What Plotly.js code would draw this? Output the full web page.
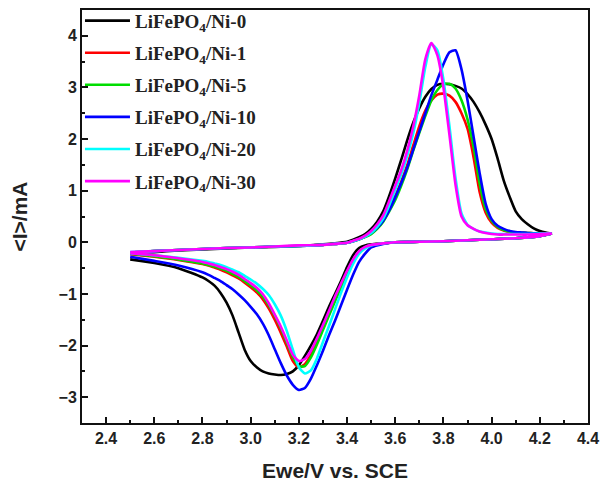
<!DOCTYPE html>
<html>
<head>
<meta charset="utf-8">
<script src="https://cdn.plot.ly/plotly-3.0.1.min.js"></script>
<style>html,body{margin:0;padding:0;background:#fff}#chart{width:616px;height:486px}</style>
</head>
<body>
<div id="chart"></div>
<script>
// Potential grids (V vs. SCE)
const vAnodic = [2.5,2.6,2.7,2.8,2.9,3.0,3.1,3.2,3.3,3.35,3.4,3.425,
  3.45,3.475,3.5,3.525,3.55,3.575,3.6,3.625,3.65,3.675,3.7,3.725,3.75,3.775,3.8,3.825,3.85,3.875,3.9,3.925,3.95,3.975,4.0,4.025,4.05,4.075,
  4.1,4.125,4.15,4.175,4.2,4.225,4.25];
const vCathodic = [4.25,4.2,4.1,4.0,3.9,3.8,3.7,3.6,3.55,3.5,
  3.475,3.45,3.425,3.4,3.375,3.35,3.325,3.3,3.275,3.25,3.225,3.2,3.175,3.15,3.125,3.1,3.075,3.05,3.025,
  3.0,2.975,2.95,2.925,2.9,2.875,2.85,2.825,2.8,
  2.7,2.6,2.5];

const seriesNames = ["LiFePO<sub>4</sub>/Ni-0","LiFePO<sub>4</sub>/Ni-1","LiFePO<sub>4</sub>/Ni-5",
  "LiFePO<sub>4</sub>/Ni-10","LiFePO<sub>4</sub>/Ni-20","LiFePO<sub>4</sub>/Ni-30"];

// Currents (mA), anodic sweep
const iAnNi0 = [-0.22,-0.19,-0.16,-0.14,-0.12,-0.1,-0.09,-0.07,-0.04,-0.02,0.01,0.05,
  0.1,0.16,0.26,0.4,0.6,0.9,1.24,1.6,1.98,2.32,2.6,2.82,2.97,3.05,3.07,3.06,3.03,2.98,2.87,2.72,2.52,2.28,2.0,1.62,1.2,0.88,
  0.6,0.45,0.35,0.27,0.22,0.19,0.17];
const iAnNi1 = [-0.2,-0.17,-0.15,-0.13,-0.11,-0.1,-0.08,-0.07,-0.05,-0.03,-0.01,0.02,
  0.06,0.11,0.19,0.3,0.45,0.66,0.9,1.18,1.5,1.88,2.25,2.55,2.75,2.86,2.88,2.84,2.72,2.5,2.2,1.65,0.98,0.58,0.38,0.28,0.23,0.2,
  0.19,0.185,0.18,0.175,0.17,0.17,0.17];
const iAnNi5 = [-0.2,-0.17,-0.15,-0.13,-0.11,-0.1,-0.08,-0.07,-0.05,-0.03,-0.01,0.02,
  0.06,0.1,0.16,0.26,0.4,0.6,0.82,1.1,1.42,1.78,2.12,2.45,2.75,2.95,3.06,3.07,2.98,2.75,2.38,1.85,1.15,0.65,0.42,0.3,0.24,0.21,
  0.19,0.185,0.18,0.175,0.17,0.17,0.17];
const iAnNi10 = [-0.2,-0.17,-0.15,-0.13,-0.11,-0.1,-0.08,-0.07,-0.05,-0.03,-0.01,0.02,
  0.06,0.11,0.18,0.28,0.42,0.62,0.87,1.15,1.45,1.8,2.15,2.5,2.85,3.15,3.45,3.68,3.72,3.35,2.75,2.05,1.35,0.75,0.45,0.32,0.26,0.22,
  0.2,0.19,0.18,0.175,0.17,0.17,0.17];
const iAnNi20 = [-0.19,-0.17,-0.15,-0.13,-0.11,-0.1,-0.08,-0.07,-0.05,-0.03,-0.01,0.02,
  0.06,0.11,0.18,0.3,0.46,0.72,1.02,1.32,1.68,2.12,2.7,3.4,3.84,3.72,3.15,2.25,1.25,0.56,0.34,0.26,0.21,0.19,0.17,0.16,0.16,0.16,
  0.16,0.16,0.16,0.165,0.17,0.17,0.17];
const iAnNi30 = [-0.19,-0.17,-0.15,-0.13,-0.11,-0.1,-0.08,-0.06,-0.05,-0.03,-0.01,0.03,
  0.07,0.13,0.22,0.35,0.52,0.8,1.1,1.4,1.78,2.25,2.85,3.55,3.86,3.62,3.0,2.08,1.12,0.5,0.33,0.26,0.21,0.18,0.16,0.15,0.15,0.15,
  0.15,0.15,0.15,0.155,0.16,0.165,0.17];

// Currents (mA), cathodic sweep
const iCaNi0 = [0.17,0.12,0.08,0.06,0.04,0.02,0.01,0.0,-0.02,-0.04,
  -0.06,-0.11,-0.25,-0.48,-0.75,-1.0,-1.25,-1.52,-1.78,-2.0,-2.2,-2.38,-2.5,-2.55,-2.57,-2.56,-2.54,-2.5,-2.42,
  -2.3,-2.08,-1.75,-1.42,-1.17,-0.98,-0.84,-0.75,-0.68,
  -0.5,-0.4,-0.33];
const iCaNi1 = [0.17,0.12,0.08,0.06,0.04,0.02,0.01,0.0,-0.02,-0.05,
  -0.1,-0.18,-0.35,-0.58,-0.84,-1.1,-1.38,-1.66,-1.93,-2.18,-2.36,-2.42,-2.3,-2.02,-1.75,-1.5,-1.28,-1.1,-0.97,
  -0.87,-0.78,-0.7,-0.64,-0.58,-0.53,-0.49,-0.45,-0.42,
  -0.34,-0.28,-0.23];
const iCaNi5 = [0.17,0.12,0.08,0.06,0.04,0.02,0.01,0.0,-0.02,-0.05,
  -0.1,-0.19,-0.36,-0.6,-0.87,-1.14,-1.42,-1.7,-1.98,-2.23,-2.4,-2.4,-2.22,-1.94,-1.66,-1.42,-1.22,-1.05,-0.93,
  -0.83,-0.75,-0.67,-0.61,-0.55,-0.51,-0.47,-0.44,-0.41,
  -0.33,-0.27,-0.22];
const iCaNi10 = [0.17,0.12,0.08,0.06,0.04,0.02,0.01,0.0,-0.03,-0.1,
  -0.22,-0.38,-0.63,-0.92,-1.22,-1.52,-1.8,-2.1,-2.38,-2.64,-2.82,-2.86,-2.76,-2.58,-2.34,-2.07,-1.8,-1.57,-1.39,
  -1.25,-1.12,-1.01,-0.91,-0.83,-0.75,-0.69,-0.63,-0.58,
  -0.45,-0.36,-0.28];
const iCaNi20 = [0.17,0.12,0.08,0.06,0.04,0.02,0.01,0.0,-0.02,-0.06,
  -0.12,-0.22,-0.42,-0.68,-0.98,-1.3,-1.62,-1.93,-2.25,-2.48,-2.54,-2.42,-2.08,-1.72,-1.42,-1.2,-1.02,-0.9,-0.8,
  -0.72,-0.65,-0.58,-0.53,-0.48,-0.44,-0.41,-0.38,-0.36,
  -0.3,-0.25,-0.21];
const iCaNi30 = [0.17,0.12,0.08,0.06,0.04,0.02,0.01,0.0,-0.02,-0.05,
  -0.09,-0.17,-0.33,-0.55,-0.8,-1.05,-1.33,-1.6,-1.86,-2.1,-2.26,-2.3,-2.18,-1.9,-1.63,-1.4,-1.18,-1.0,-0.88,
  -0.79,-0.71,-0.63,-0.57,-0.52,-0.48,-0.44,-0.41,-0.38,
  -0.31,-0.25,-0.21];

const anodic = [iAnNi0,iAnNi1,iAnNi5,iAnNi10,iAnNi20,iAnNi30];
const cathodic = [iCaNi0,iCaNi1,iCaNi5,iCaNi10,iCaNi20,iCaNi30];
const colors = ["#000000","#ff0000","#00dd00","#0000ff","#00ffff","#ff00ff"];

const xTickVals = [2.4,2.6,2.8,3.0,3.2,3.4,3.6,3.8,4.0,4.2,4.4];
const yTickVals = [-3,-2,-1,0,1,2,3,4];

const traces = seriesNames.map((name, k) => ({
  type: 'scatter', mode: 'lines', name: name,
  legendgroup: 'g' + k,
  x: vAnodic.concat(vCathodic),
  y: anodic[k].concat(cathodic[k]),
  line: {color: colors[k], width: 2.6, shape: 'spline', smoothing: 0.6}
}));

const axisFont = {family: 'Liberation Sans, Arial, sans-serif', size: 16, color: '#222', weight: 'bold'};
const titleFont = {family: 'Liberation Sans, Arial, sans-serif', size: 21, color: '#222', weight: 'bold'};
const layout = {
  width: 616, height: 486,
  margin: {l: 82, r: 28, t: 10, b: 63, autoexpand: false},
  paper_bgcolor: '#fff', plot_bgcolor: '#fff',
  showlegend: true,
  legend: {
    x: -0.004, y: 1.02, xanchor: 'left', yanchor: 'top',
    bgcolor: 'rgba(0,0,0,0)', borderwidth: 0,
    font: {family: 'Liberation Serif, Times New Roman, serif', size: 19, color: '#222', weight: 'bold'},
    traceorder: 'grouped', tracegroupgap: 4.4, itemwidth: 45
  },
  xaxis: {
    range: [2.3, 4.4], tickvals: xTickVals, tickformat: '.1f',
    ticks: 'inside', ticklen: 6, tickwidth: 2, tickcolor: '#111',
    minor: {dtick: 0.1, tick0: 2.3, ticks: 'inside', ticklen: 3, tickwidth: 2, tickcolor: '#111'},
    showline: true, linewidth: 2, linecolor: '#111', mirror: true,
    showgrid: false, zeroline: false,
    tickfont: axisFont,
    title: {text: 'Ewe/V vs. SCE', font: titleFont, standoff: 17}
  },
  yaxis: {
    range: [-3.5, 4.5], tickvals: yTickVals,
    ticks: 'inside', ticklen: 6, tickwidth: 2, tickcolor: '#111',
    minor: {dtick: 0.5, tick0: -3.5, ticks: 'inside', ticklen: 3, tickwidth: 2, tickcolor: '#111'},
    showline: true, linewidth: 2, linecolor: '#111', mirror: true,
    showgrid: false, zeroline: false,
    tickfont: axisFont,
    title: {text: '&lt;I&gt;/mA', font: titleFont, standoff: 25}
  }
};

Plotly.newPlot('chart', traces, layout, {displayModeBar: false, staticPlot: true});
</script>
</body>
</html>
